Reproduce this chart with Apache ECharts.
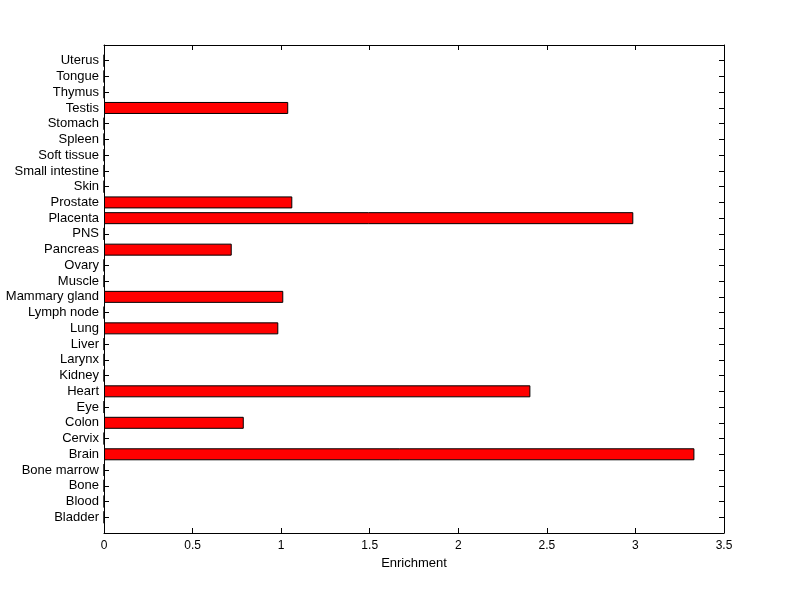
<!DOCTYPE html>
<html><head><meta charset="utf-8">
<script src="https://cdn.jsdelivr.net/npm/echarts@6/dist/echarts.min.js"></script>
<style>html,body{margin:0;padding:0;background:#fff}#c{width:800px;height:599px}</style>
</head><body><div id="c"></div>
<script>
const categories = ['Bladder','Blood','Bone','Bone marrow','Brain','Cervix','Colon','Eye','Heart','Kidney','Larynx','Liver','Lung','Lymph node','Mammary gland','Muscle','Ovary','Pancreas','PNS','Placenta','Prostate','Skin','Small intestine','Soft tissue','Spleen','Stomach','Testis','Thymus','Tongue','Uterus'];
const enrichment = [0,0,0,0,3.333,0,0.789,0,2.407,0,0,0,0.984,0,1.012,0,0,0.721,0,2.988,1.063,0,0,0,0,0,1.040,0,0,0];
const xTicks = {min:0, max:3.5, interval:0.5};
const xLabel = 'Enrichment';

const cats = [''].concat(categories, ['']);
const vals = [null].concat(enrichment, [null]);
const font = 'Liberation Sans, Arial, sans-serif';
const axisLine = {show:true, onZero:false, lineStyle:{color:'#000', width:1}};
const ticksIn = {show:true, inside:true, length:5, lineStyle:{color:'#000', width:1}};

const chart = echarts.init(document.getElementById('c'), null, {renderer:'canvas'});
chart.setOption({
  animation:false,
  backgroundColor:'#fff',
  grid:{left:104, right:76, top:45, bottom:66, containLabel:false},
  xAxis:[{
    type:'value', position:'bottom', min:xTicks.min, max:xTicks.max, interval:xTicks.interval,
    name:xLabel, nameLocation:'middle', nameGap:23,
    nameTextStyle:{color:'#000', fontFamily:font, fontSize:13},
    axisLine:axisLine, axisTick:ticksIn, splitLine:{show:false},
    axisLabel:{color:'#000', fontFamily:font, fontSize:12, margin:7, formatter:v=>String(v)}
  },{
    type:'value', position:'top', min:xTicks.min, max:xTicks.max, interval:xTicks.interval,
    axisLine:axisLine, axisTick:ticksIn, splitLine:{show:false}, axisLabel:{show:false}
  }],
  yAxis:[{
    type:'category', data:cats, boundaryGap:false, position:'left',
    axisLine:axisLine, axisTick:Object.assign({}, ticksIn, {alignWithLabel:true}), splitLine:{show:false},
    axisLabel:{color:'#000', fontFamily:font, fontSize:13, margin:5, interval:0}
  },{
    type:'category', data:cats, boundaryGap:false, position:'right',
    axisLine:axisLine, axisTick:ticksIn, splitLine:{show:false}, axisLabel:{show:false}
  }],
  series:[{
    type:'bar', data:vals, xAxisIndex:0, yAxisIndex:0, barWidth:12,
    itemStyle:{color:'#ff0000', borderColor:'#000', borderWidth:1}
  }]
});
</script></body></html>
